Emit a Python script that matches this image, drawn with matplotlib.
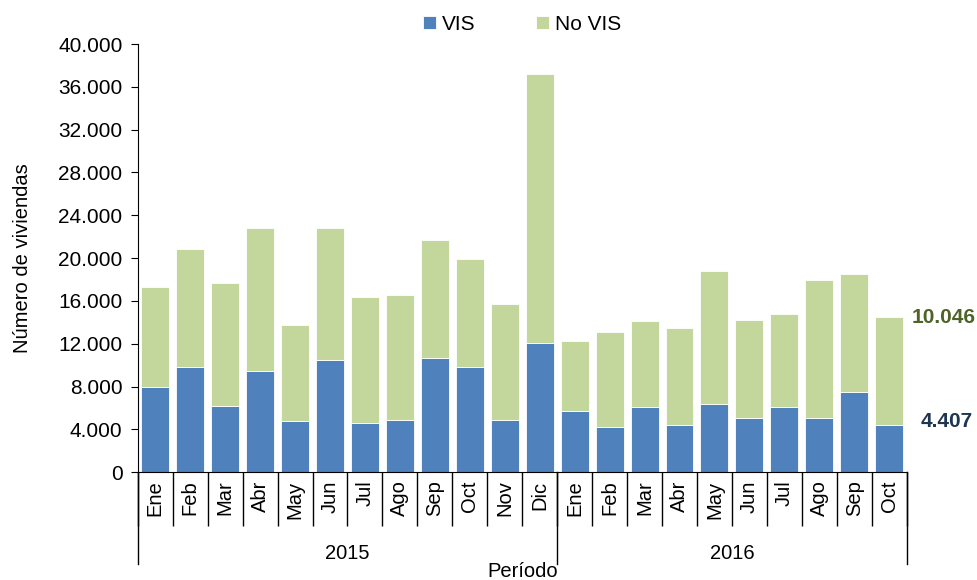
import matplotlib.pyplot as plt
import matplotlib.transforms as mtransforms
from matplotlib.ticker import FuncFormatter

plt.rcParams['font.family'] = ['Liberation Sans', 'DejaVu Sans']

meses = ['Ene', 'Feb', 'Mar', 'Abr', 'May', 'Jun', 'Jul', 'Ago', 'Sep', 'Oct', 'Nov', 'Dic',
         'Ene', 'Feb', 'Mar', 'Abr', 'May', 'Jun', 'Jul', 'Ago', 'Sep', 'Oct']
anios = ['2015', '2016']
meses_por_anio = [12, 10]

vis = [8000, 9820, 6220, 9450, 4760, 10480, 4600, 4910, 10630, 9820, 4910, 12060,
       5720, 4260, 6060, 4410, 6400, 5070, 6060, 5070, 7520, 4407]
total = [17310, 20890, 17630, 22850, 13710, 22850, 16320, 16510, 21730, 19890, 15670, 37210,
         12280, 13090, 14080, 13430, 18780, 14210, 14730, 18000, 18500, 14453]
no_vis = [t - v for t, v in zip(total, vis)]
no_vis[-1] = 10046

azul = '#4F81BD'
verde = '#C3D69B'

fig = plt.figure(figsize=(9.77, 5.80), dpi=100)
ax = fig.add_axes([0.141, 0.186, 0.787, 0.738])

x = list(range(len(meses)))
ax.bar(x, vis, width=0.8, color=azul, edgecolor='white', linewidth=0.6, label='VIS')
ax.bar(x, no_vis, width=0.8, bottom=vis, color=verde, edgecolor='white', linewidth=0.6, label='No VIS')

ax.set_xlim(-0.5, len(meses) - 0.5)
ax.set_ylim(0, 40000)
ax.set_yticks(range(0, 40001, 4000))
ax.yaxis.set_major_formatter(FuncFormatter(lambda v, p: f'{int(v):,}'.replace(',', '.')))
ax.tick_params(axis='y', labelsize=15, length=5, direction='out', pad=6)

for s in ['top', 'right']:
    ax.spines[s].set_visible(False)

# meses y separadores
ax.set_xticks(x)
ax.set_xticklabels(meses, rotation=90, fontsize=14.5)
ax.tick_params(axis='x', length=0, pad=6)
ax.set_xticks([i - 0.5 for i in range(len(meses) + 1)], minor=True)
ax.tick_params(axis='x', which='minor', length=39, width=1, direction='out')

trans = mtransforms.blended_transform_factory(ax.transData, ax.transAxes)
inicio = -0.5
for anio, n in zip(anios, meses_por_anio):
    ax.plot([inicio, inicio], [0, -0.215], transform=trans, color='black', lw=1, clip_on=False)
    ax.text(inicio + n / 2, -0.19, anio, transform=trans, ha='center', va='center', fontsize=14.5)
    inicio += n
ax.plot([inicio, inicio], [0, -0.215], transform=trans, color='black', lw=1, clip_on=False)

ax.text(0.5, -0.232, 'Período', transform=ax.transAxes, ha='center', va='center', fontsize=14.5)
ax.set_ylabel('Número de viviendas', fontsize=14.5)
ax.yaxis.set_label_coords(-0.137, 0.5)

ultimo = len(meses) - 1
ax.text(ultimo + 1.55, total[-1], f'{no_vis[-1]:,}'.replace(',', '.'), ha='center', va='center',
        fontsize=15, fontweight='bold', color='#4F6228', clip_on=False)
ax.text(ultimo + 1.65, vis[-1] + 300, f'{vis[-1]:,}'.replace(',', '.'), ha='center', va='center',
        fontsize=15, fontweight='bold', color='#1F3550', clip_on=False)

ax.legend(loc='lower center', bbox_to_anchor=(0.5, 1.0), ncol=2, frameon=False, fontsize=15,
          handlelength=0.6, handleheight=0.6, handletextpad=0.3, columnspacing=2.9, borderaxespad=0.1)

fig.savefig('out.png', dpi=100)
